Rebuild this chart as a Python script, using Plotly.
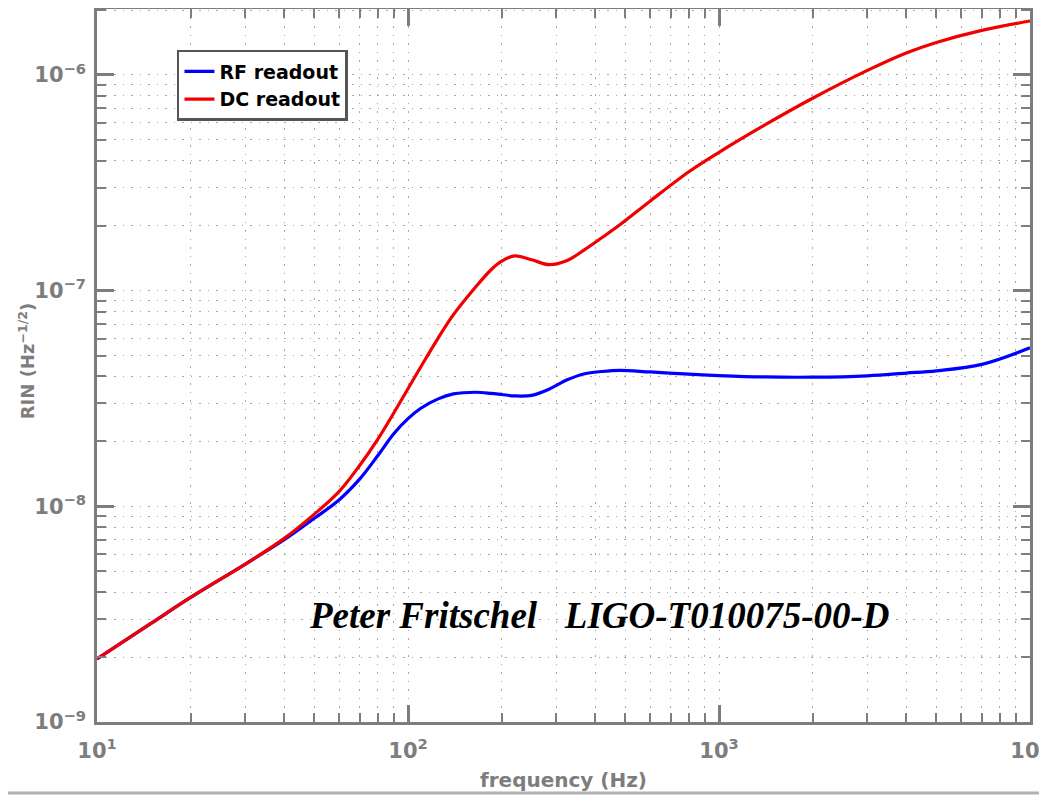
import plotly.graph_objects as go

# ---- data ----
freq_hz = [10, 15, 20, 30, 40, 50, 60, 70, 80, 90, 100, 110, 125, 140, 165, 185, 200, 220, 250,
           285, 325, 370, 420, 480, 600, 800, 1000, 1400, 2000, 3000, 4000, 5000, 7000, 10000]

rf_readout = [1.96e-9, 2.88e-9, 3.78e-9, 5.4e-9, 7.0e-9, 8.8e-9, 1.07e-8, 1.34e-8, 1.72e-8,
              2.17e-8, 2.55e-8, 2.85e-8, 3.15e-8, 3.32e-8, 3.38e-8, 3.34e-8, 3.30e-8, 3.25e-8, 3.27e-8,
              3.50e-8, 3.86e-8, 4.12e-8, 4.22e-8, 4.27e-8, 4.20e-8, 4.10e-8, 4.04e-8, 3.98e-8,
              3.97e-8, 4.03e-8, 4.15e-8, 4.25e-8, 4.55e-8, 5.43e-8]

dc_readout = [1.96e-9, 2.88e-9, 3.78e-9, 5.4e-9, 7.1e-9, 9.2e-9, 1.17e-8, 1.55e-8, 2.05e-8,
              2.71e-8, 3.51e-8, 4.44e-8, 6.03e-8, 7.74e-8, 1.04e-7, 1.25e-7, 1.37e-7, 1.45e-7, 1.39e-7,
              1.32e-7, 1.38e-7, 1.55e-7, 1.76e-7, 2.02e-7, 2.60e-7, 3.56e-7, 4.38e-7, 5.85e-7,
              7.80e-7, 1.05e-6, 1.265e-6, 1.415e-6, 1.61e-6, 1.78e-6]

x_major = [1e1, 1e2, 1e3, 1e4]
x_major_text = ["<b>10<sup>1</sup></b>", "<b>10<sup>2</sup></b>", "<b>10<sup>3</sup></b>", "<b>10<sup>4</sup></b>"]
y_major = [1e-9, 1e-8, 1e-7, 1e-6]
y_major_text = ["<b>10<sup>\u22129</sup></b>", "<b>10<sup>\u22128</sup></b>",
                "<b>10<sup>\u22127</sup></b>", "<b>10<sup>\u22126</sup></b>"]
x_minor = [m * 10 ** k for k in (1, 2, 3) for m in range(2, 10)]
y_minor = [m * 10.0 ** k for k in (-9, -8, -7, -6) for m in range(2, 10)]

GRAY = "#7d7d7d"
GRID = "#a8a8a8"
DASH = "1.5px,7px"
SANS = "DejaVu Sans, Liberation Sans, Arial, sans-serif"

fig = go.Figure()
fig.add_trace(go.Scatter(x=freq_hz, y=rf_readout, mode="lines", name="<b>RF readout</b>",
                         line=dict(color="#0000ff", width=3.2, shape="spline", smoothing=1.0)))
fig.add_trace(go.Scatter(x=freq_hz, y=dc_readout, mode="lines", name="<b>DC readout</b>",
                         line=dict(color="#f00000", width=3.2, shape="spline", smoothing=1.0)))

axis_common = dict(
    showline=True, linecolor=GRAY, linewidth=2.5, mirror="ticks",
    ticks="inside", ticklen=17, tickwidth=2.5, tickcolor=GRAY,
    showgrid=True, gridcolor=GRID, gridwidth=1, griddash=DASH,
    zeroline=False, automargin=False, ticklabeloverflow="allow",
    tickfont=dict(family=SANS, size=21, color=GRAY),
    tickmode="array",
)

fig.update_xaxes(type="log", range=[1, 4], tickvals=x_major, ticktext=x_major_text,
                 minor=dict(tickmode="array", tickvals=x_minor, ticks="inside", ticklen=9,
                            tickwidth=2, tickcolor=GRAY, showgrid=True, gridcolor=GRID,
                            gridwidth=1, griddash=DASH),
                 ticklabelstandoff=8,
                 **axis_common)
fig.update_yaxes(type="log", range=[-9, -5.694], tickvals=y_major, ticktext=y_major_text,
                 minor=dict(tickmode="array", tickvals=y_minor, ticks="inside", ticklen=9,
                            tickwidth=2, tickcolor=GRAY, showgrid=True, gridcolor=GRID,
                            gridwidth=1, griddash=DASH),
                 ticklabelstandoff=4,
                 **axis_common)

# the page body adds an 8px margin, so the figure is sized/offset to compensate
fig.update_layout(
    width=1039, height=787,
    margin=dict(l=89, r=17, t=1, b=73),
    paper_bgcolor="white", plot_bgcolor="white",
    showlegend=True,
    legend=dict(x=0.0857, y=0.9425, xanchor="left", yanchor="top",
                bgcolor="white", bordercolor="#555555", borderwidth=2.5,
                font=dict(family=SANS, size=19, color="black"),
                tracegroupgap=0, itemwidth=30),
    annotations=[
        dict(text="<b><i>Peter Fritschel&nbsp;&nbsp;&nbsp;LIGO-T010075-00-D</i></b>",
             xref="paper", yref="paper", x=0.539, y=0.150,
             xanchor="center", yanchor="middle", showarrow=False,
             font=dict(family="Liberation Serif, Times New Roman, serif", size=37, color="black")),
        dict(text="<b>frequency (Hz)</b>", xref="paper", yref="paper", x=0.5, y=-0.0813,
             xanchor="center", yanchor="middle", showarrow=False,
             font=dict(family=SANS, size=20, color=GRAY)),
        dict(text="<b>RIN (Hz<sup>\u22121/2</sup>)</b>", xref="paper", yref="paper",
             x=-0.075, y=0.506, xanchor="center", yanchor="middle", textangle=-90,
             showarrow=False, font=dict(family=SANS, size=18, color=GRAY)),
    ],
    shapes=[dict(type="line", xref="paper", yref="paper", x0=-0.2, x1=1.2,
                 y0=-0.0996, y1=-0.0996, line=dict(color="#b0b0b0", width=3))],
)

fig.write_html("out.html")
